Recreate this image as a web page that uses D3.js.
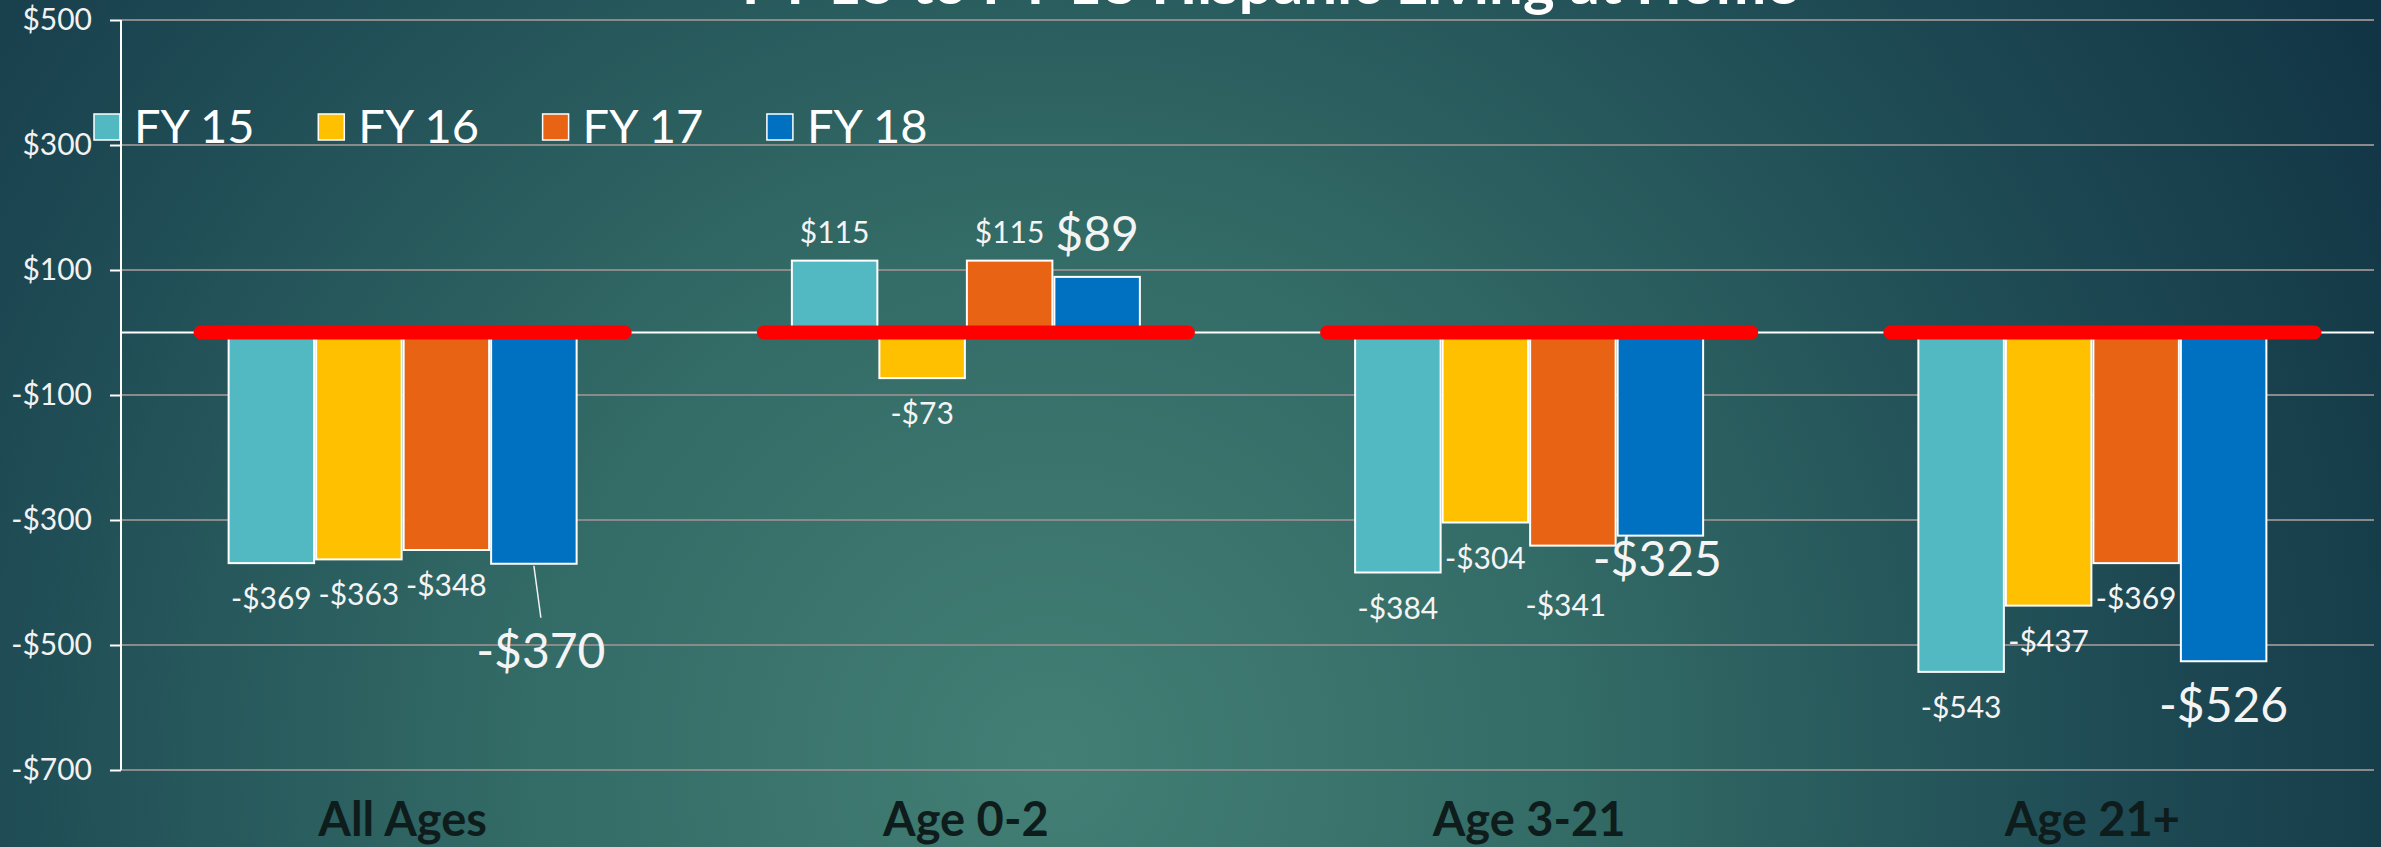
<!DOCTYPE html>
<html>
<head>
<meta charset="utf-8">
<script src="https://cdn.jsdelivr.net/npm/d3@7"></script>
<style>
  html, body { margin: 0; padding: 0; overflow: hidden; background: #1d4a52; }
  svg { display: block; font-family: Lato, "Open Sans", sans-serif; }
  .grid line { stroke: #8a8a8a; stroke-width: 2; }
  .ylab { fill: #f2f2f2; font-size: 30px; }
  .cat { fill: #0f1c1c; font-size: 47px; font-weight: 700; }
  .lbl { fill: #f4f4f4; }
</style>
</head>
<body>
<div id="chart"></div>
<script>
// data
const categories = ['All Ages', 'Age 0-2', 'Age 3-21', 'Age 21+'];
const seriesNames = ['FY 15', 'FY 16', 'FY 17', 'FY 18'];
const fy15 = [-369, 115, -384, -543];
const fy16 = [-363, -73, -304, -437];
const fy17 = [-348, 115, -341, -369];
const fy18 = [-370, 89, -325, -526];
const yTicks = [500, 300, 100, -100, -300, -500, -700];
const title = 'FY 15 to FY 18 Hispanic Living at Home';

const colors = ['#52b8c2', '#ffc000', '#e96315', '#0070c0'];

// label nudges (layout only), key = category|series -> [dx, dy]
const nudge = {
  'All Ages|FY 18': [7, 56],
  'Age 3-21|FY 17': [-7, 24],
  'Age 3-21|FY 18': [-3, -8],
  'Age 21+|FY 18': [0, 13]
};
const leader = ['All Ages|FY 18'];

const width = 2381, height = 847;
const plotLeft = 121, plotRight = 2374, plotTop = 20, plotBottom = 770;

const values = [fy15, fy16, fy17, fy18];
const rows = [];
categories.forEach((c, i) => {
  seriesNames.forEach((s, j) => {
    rows.push({cat: c, series: s, si: j, value: values[j][i]});
  });
});

const svg = d3.select('#chart').append('svg')
  .attr('width', width)
  .attr('height', height);

// background
const defs = svg.append('defs');
const grad = defs.append('radialGradient')
  .attr('id', 'bg')
  .attr('gradientUnits', 'userSpaceOnUse')
  .attr('cx', 1050).attr('cy', 760).attr('r', 1500);
[[0, '#437f75'], [0.35, '#336b66'], [0.7, '#1f4c55'], [1, '#123545']].forEach(s => {
  grad.append('stop').attr('offset', s[0]).attr('stop-color', s[1]);
});
svg.append('rect').attr('width', width).attr('height', height).attr('fill', 'url(#bg)');

const x0 = d3.scaleBand()
  .domain(categories)
  .range([plotLeft, plotRight])
  .paddingInner(0.3786)
  .paddingOuter(0.1893);
const x1 = d3.scaleBand()
  .domain(seriesNames)
  .range([0, x0.bandwidth()]);
const y = d3.scaleLinear()
  .domain([-700, 500])
  .range([plotBottom, plotTop]);

// title (cut off at the top like the source)
svg.append('text')
  .attr('x', 1270).attr('y', 4)
  .attr('text-anchor', 'middle')
  .style('fill', '#fff')
  .style('font-size', '60px')
  .style('font-weight', 700)
  .text(title);

// gridlines
svg.append('g').attr('class', 'grid')
  .selectAll('line').data(yTicks).enter().append('line')
  .attr('x1', plotLeft).attr('x2', plotRight)
  .attr('y1', d => y(d)).attr('y2', d => y(d));

// y axis
const yAxis = svg.append('g')
  .attr('transform', `translate(${plotLeft},0)`)
  .call(d3.axisLeft(y).tickValues(yTicks).tickSize(11).tickPadding(18)
    .tickFormat(d => (d < 0 ? '-$' : '$') + Math.abs(d)));
yAxis.select('.domain').attr('stroke', '#fff').attr('stroke-width', 2)
  .attr('d', `M0,${plotTop}V${plotBottom}`);
yAxis.selectAll('.tick line').attr('stroke', '#fff').attr('stroke-width', 2);
yAxis.selectAll('.tick text').attr('class', 'ylab').attr('fill', null)
  .style('font-family', 'Lato, sans-serif').style('font-size', '30px');

// zero line
svg.append('line')
  .attr('x1', plotLeft).attr('x2', plotRight)
  .attr('y1', y(0)).attr('y2', y(0))
  .attr('stroke', '#fff').attr('stroke-width', 2);

// bars
svg.append('g').selectAll('rect').data(rows).enter().append('rect')
  .attr('x', d => x0(d.cat) + x1(d.series) + 1)
  .attr('y', d => y(Math.max(0, d.value)))
  .attr('width', x1.bandwidth() - 2)
  .attr('height', d => Math.abs(y(d.value) - y(0)))
  .style('fill', d => colors[d.si])
  .style('stroke', '#fff')
  .style('stroke-width', 2);

// red zero markers
svg.append('g').selectAll('line').data(categories).enter().append('line')
  .attr('x1', d => x0(d) + x0.bandwidth() / 2 - 202)
  .attr('x2', d => x0(d) + x0.bandwidth() / 2 + 222)
  .attr('y1', y(0)).attr('y2', y(0))
  .attr('stroke', '#ff0000')
  .attr('stroke-width', 14)
  .attr('stroke-linecap', 'round');

// data labels
const fmt = v => (v < 0 ? '-$' : '$') + Math.abs(v);
const labels = svg.append('g');
rows.forEach(d => {
  const key = d.cat + '|' + d.series;
  const big = d.si === 3;
  const n = nudge[key] || [0, 0];
  const cx = x0(d.cat) + x1(d.series) + x1.bandwidth() / 2;
  const yEnd = y(d.value);
  let base;
  if (d.value < 0) base = yEnd + (big ? 48 : 46);
  else base = yEnd - (big ? 26 : 18);
  const lx = cx + n[0], ly = base + n[1];
  if (leader.indexOf(key) >= 0) {
    labels.append('line')
      .attr('x1', cx).attr('y1', yEnd + 2)
      .attr('x2', lx).attr('y2', ly - 50)
      .attr('stroke', '#f4f4f4').attr('stroke-width', 1.5);
  }
  labels.append('text')
    .attr('class', 'lbl')
    .attr('x', lx).attr('y', ly)
    .attr('text-anchor', 'middle')
    .style('font-size', big ? '48px' : '30px')
    .text(fmt(d.value));
});

// category labels
svg.append('g').selectAll('text').data(categories).enter().append('text')
  .attr('class', 'cat')
  .attr('x', d => x0(d) + x0.bandwidth() / 2)
  .attr('y', 836)
  .attr('text-anchor', 'middle')
  .text(d => d);

// legend
const legend = svg.append('g').attr('transform', 'translate(94,114)');
const item = legend.selectAll('g').data(seriesNames).enter().append('g')
  .attr('transform', (d, i) => `translate(${i * 224.3},0)`);
item.append('rect')
  .attr('width', 26).attr('height', 26)
  .style('fill', (d, i) => colors[i])
  .style('stroke', '#fff').style('stroke-width', 1.5);
item.append('text')
  .attr('x', 40).attr('y', 29)
  .style('fill', '#fff')
  .style('font-size', '47px')
  .text(d => d);
</script>
</body>
</html>
